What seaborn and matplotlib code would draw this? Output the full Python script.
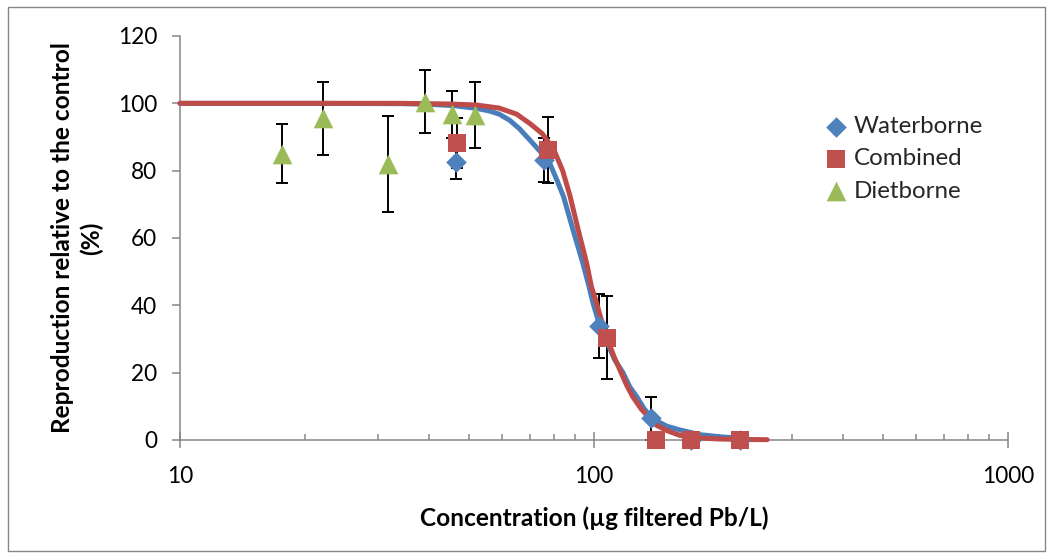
import matplotlib
matplotlib.use("Agg")
import matplotlib.pyplot as plt
import seaborn as sns
import pandas as pd
from matplotlib.patches import Rectangle
from matplotlib.ticker import FixedLocator, LogLocator, NullFormatter, FuncFormatter

# ---------------- data ----------------
series_names = ["Waterborne", "Combined", "Dietborne"]

water_conc = [46.3, 75.9, 102.8, 137.4, 171.8, 224.9]
water_resp = [82.7, 83.2, 33.9, 6.4, 0.0, 0.0]
water_err = [5.2, 6.5, 9.5, 6.3, 0.0, 0.0]

comb_conc = [46.8, 77.3, 107.4, 140.9, 171.8, 224.9]
comb_resp = [88.1, 86.1, 30.4, 0.0, 0.0, 0.0]
comb_err = [7.4, 9.7, 12.4, 0.0, 0.0, 0.0]

diet_conc = [17.6, 22.2, 31.8, 39.0, 45.4, 51.5]
diet_resp = [85.0, 95.5, 82.0, 100.5, 96.7, 96.5]
diet_err = [8.8, 10.8, 14.2, 9.4, 7.1, 9.9]

# fitted curves, points
water_fit_conc = [10, 20, 34, 40, 46, 52, 56, 59, 62.5, 66, 70, 75, 78.3, 81.5, 84.4,
                  89, 94, 97.3, 99.5, 103.3, 108, 112, 117.5, 122, 126.8, 132, 138,
                  150, 161, 180, 200, 232]
water_fit_resp = [100, 100, 99.9, 99.7, 99.3, 98.5, 97.7, 96.8, 95.0, 92.5, 89.1,
                  85.0, 82.0, 77.0, 72.3, 62.4, 52.5, 45.5, 40.6, 33.9, 28.5, 24.0,
                  20.0, 15.8, 12.9, 9.4, 6.4, 4.1, 3.0, 1.6, 1.0, 0.4]

comb_fit_conc = [10, 20, 34, 45, 52, 59, 65, 70, 75, 80, 84, 87.5, 91.6, 96, 98.6,
                 101.5, 104.5, 108, 112, 115.5, 120, 124, 130, 141, 150, 161, 180,
                 200, 230, 262]
comb_fit_resp = [100, 100, 100, 99.8, 99.5, 98.6, 96.8, 94.0, 91.0, 86.2, 80.0,
                 72.5, 62.4, 52.5, 45.5, 40.6, 35.0, 29.5, 24.5, 20.8, 16.2, 12.9,
                 9.2, 4.5, 2.8, 1.4, 0.6, 0.3, 0.15, 0.1]

x_ticks = [10, 100, 1000]
y_ticks = [0, 20, 40, 60, 80, 100, 120]
x_label = "Concentration (µg filtered Pb/L)"
y_label = "Reproduction relative to the control\n(%)"

# ---------------- style ----------------
sns.set_theme(style="white")
plt.rcParams['font.family'] = ['Lato', 'DejaVu Sans']

BLUE = "#4A7EBB"
BLUE_M = "#4F81BD"
RED = "#BE4B48"
RED_M = "#C0504D"
GREEN_M = "#9BBB59"
AXIS = "#868686"
FS_TICK = 16.3
FS_LAB = 17.6
FS_LEG = 17.4

W, H = 1053, 558
fig = plt.figure(figsize=(W / 100, H / 100), dpi=100)
fig.patch.set_facecolor("white")
ax = fig.add_axes([180 / W, 1 - 440 / H, (1008 - 180) / W, (440 - 36) / H])
ax.set_xscale("log")

water = pd.DataFrame({"conc": water_conc, "resp": water_resp, "err": water_err})
comb = pd.DataFrame({"conc": comb_conc, "resp": comb_resp, "err": comb_err})
diet = pd.DataFrame({"conc": diet_conc, "resp": diet_resp, "err": diet_err})
wfit = pd.DataFrame({"conc": water_fit_conc, "resp": water_fit_resp})
cfit = pd.DataFrame({"conc": comb_fit_conc, "resp": comb_fit_resp})

# error bars
for df in (water, comb, diet):
    ax.errorbar(df["conc"], df["resp"], yerr=df["err"], fmt="none",
                ecolor="black", elinewidth=1.4, capsize=4.6, capthick=1.4,
                zorder=2, clip_on=False)

# fitted curves
sns.lineplot(data=wfit, x="conc", y="resp", ax=ax, color=BLUE, linewidth=3.6,
             legend=False, zorder=3, clip_on=False, estimator=None)
sns.lineplot(data=cfit, x="conc", y="resp", ax=ax, color=RED, linewidth=3.6,
             legend=False, zorder=3.1, clip_on=False, estimator=None)

# markers
sns.scatterplot(data=water, x="conc", y="resp", ax=ax, marker="D", s=110,
                color=BLUE_M, linewidth=0, zorder=4, clip_on=False,
                label=series_names[0])
sns.scatterplot(data=comb, x="conc", y="resp", ax=ax, marker="s", s=185,
                color=RED_M, linewidth=0, zorder=4.1, clip_on=False,
                label=series_names[1])
sns.scatterplot(data=diet, x="conc", y="resp", ax=ax, marker="^", s=200,
                color=GREEN_M, linewidth=0, zorder=4.2, clip_on=False,
                label=series_names[2])

# axes
ax.set_xlim(x_ticks[0], x_ticks[-1])
ax.set_ylim(y_ticks[0], y_ticks[-1])
ax.xaxis.set_major_locator(FixedLocator(x_ticks))
ax.xaxis.set_major_formatter(FuncFormatter(lambda v, p: f"{v:g}"))
ax.xaxis.set_minor_locator(LogLocator(base=10, subs=range(2, 10)))
ax.xaxis.set_minor_formatter(NullFormatter())
ax.set_yticks(y_ticks)

for s in ("top", "right"):
    ax.spines[s].set_visible(False)
for s in ("left", "bottom"):
    ax.spines[s].set_color(AXIS)
    ax.spines[s].set_linewidth(1.1)

ax.tick_params(axis="y", which="major", direction="out", length=5.5, width=1.1,
               color=AXIS, pad=11, labelsize=FS_TICK, labelcolor="black", left=True)
ax.tick_params(axis="x", which="major", direction="inout", length=11, width=1.1,
               color=AXIS, pad=13, labelsize=FS_TICK, labelcolor="black", bottom=True)
ax.tick_params(axis="x", which="minor", direction="in", length=4.5, width=1.1,
               color=AXIS, bottom=True)

ax.set_xlabel(x_label, fontsize=FS_LAB, fontweight="bold", color="black")
ax.xaxis.set_label_coords(0.5, (440 - 518) / 404)
ax.xaxis.label.set_va("center")
ax.set_ylabel(y_label, fontsize=FS_LAB, fontweight="bold", color="black",
              linespacing=1.3)
ax.yaxis.set_label_coords((77 - 180) / 828, 0.5)
ax.yaxis.label.set_va("center")

leg = ax.legend(loc="upper left", bbox_to_anchor=(825 / W, 1 - 116 / H),
                bbox_transform=fig.transFigure, frameon=False, fontsize=FS_LEG,
                handlelength=0.95, handletextpad=0.25, labelspacing=0.47,
                borderpad=0, borderaxespad=0)

fig.patches.append(Rectangle((8 / W, 7 / H), (W - 16) / W, (H - 14) / H,
                             transform=fig.transFigure, fill=False,
                             edgecolor=AXIS, linewidth=1.0, zorder=0))

fig.savefig("out.png", dpi=100, facecolor="white")
